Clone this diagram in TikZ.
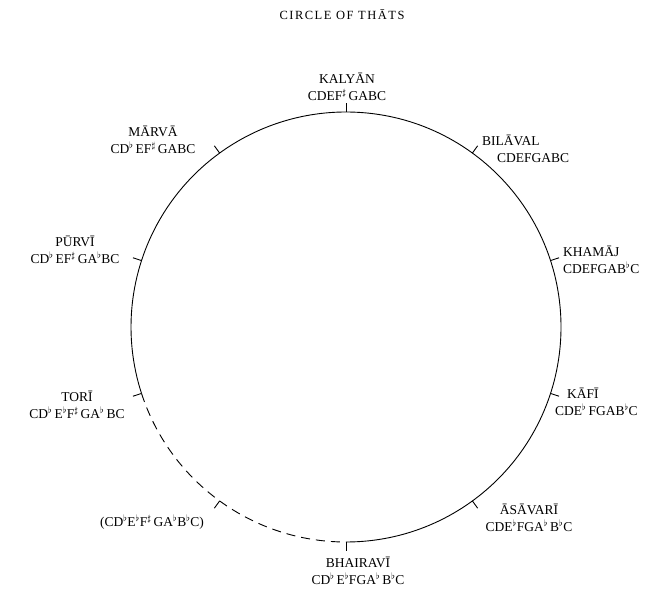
\documentclass[tikz,border=0pt]{standalone}
\usepackage{fontspec}
\setmainfont{Liberation Serif}
\usetikzlibrary{positioning}

\begin{document}
\begin{tikzpicture}[x=1pt, y=1pt,
    thatCircle/.style={line width=0.9pt},
    thatGap/.style={line width=0.9pt, dash pattern=on 9pt off 6pt},
    thatTick/.style={line width=0.9pt},
    thatLabel/.style={align=center, inner sep=0pt, font=\fontsize{13.5}{17}\selectfont},
    thatLeft/.style={align=left, inner sep=0pt, anchor=west, font=\fontsize{13.5}{17}\selectfont},
    thatTitle/.style={inner sep=0pt, font=\fontsize{12.5}{14}\selectfont\addfontfeature{LetterSpace=12}},
]
\useasboundingbox (0,0) rectangle (660,589);
\coordinate (hub) at (346,262);
\node[thatTitle] (title) at (342,574) {CIRCLE OF TH\=ATS};
\draw[thatCircle] (hub) ++(-90:215) arc[start angle=-90, end angle=198, radius=215];
\draw[thatGap] (hub) ++(198:215) arc[start angle=198, end angle=270, radius=215];
\foreach \ang in {90,54,18,-18,-54,-90,-126,-162,162,126}
  \draw[thatTick] (hub) ++(\ang:215) -- ++(\ang:9);
\node[thatLabel] (kalyan) at (347,502) {KALY\=AN\\CDEF$^\sharp$\,GABC};
\node[thatLeft] (bilaval) at (482,440) {BIL\=AVAL\\\hspace*{15pt}CDEFGABC};
\node[thatLeft] (khamaj) at (563,329) {KHAM\=AJ\\CDEFGAB$^\flat$C};
\node[thatLeft] (kafi) at (555,187) {\hspace*{12pt}K\=AF\=I\\CDE$^\flat$\,FGAB$^\flat$C};
\node[thatLabel] (asavari) at (529,71) {\=AS\=AVAR\=I\\CDE$^\flat$FGA$^\flat$\,B$^\flat$C};
\node[thatLabel] (bhairavi) at (358,18) {BHAIRAV\=I\\CD$^\flat$\,E$^\flat$FGA$^\flat$\,B$^\flat$C};
\node[thatLabel] (missing) at (152,67) {(CD$^\flat$E$^\flat$F$^\sharp$\,GA$^\flat$B$^\flat$C)};
\node[thatLabel] (tori) at (77,184) {TOR\=I\\CD$^\flat$\,E$^\flat$F$^\sharp$\,GA$^\flat$\,BC};
\node[thatLabel] (purvi) at (75,339) {P\=URV\=I\\CD$^\flat$\,EF$^\sharp$\,GA$^\flat$BC};
\node[thatLabel] (marva) at (153,449) {M\=ARV\=A\\CD$^\flat$\,EF$^\sharp$\,GABC};
\end{tikzpicture}
\end{document}
